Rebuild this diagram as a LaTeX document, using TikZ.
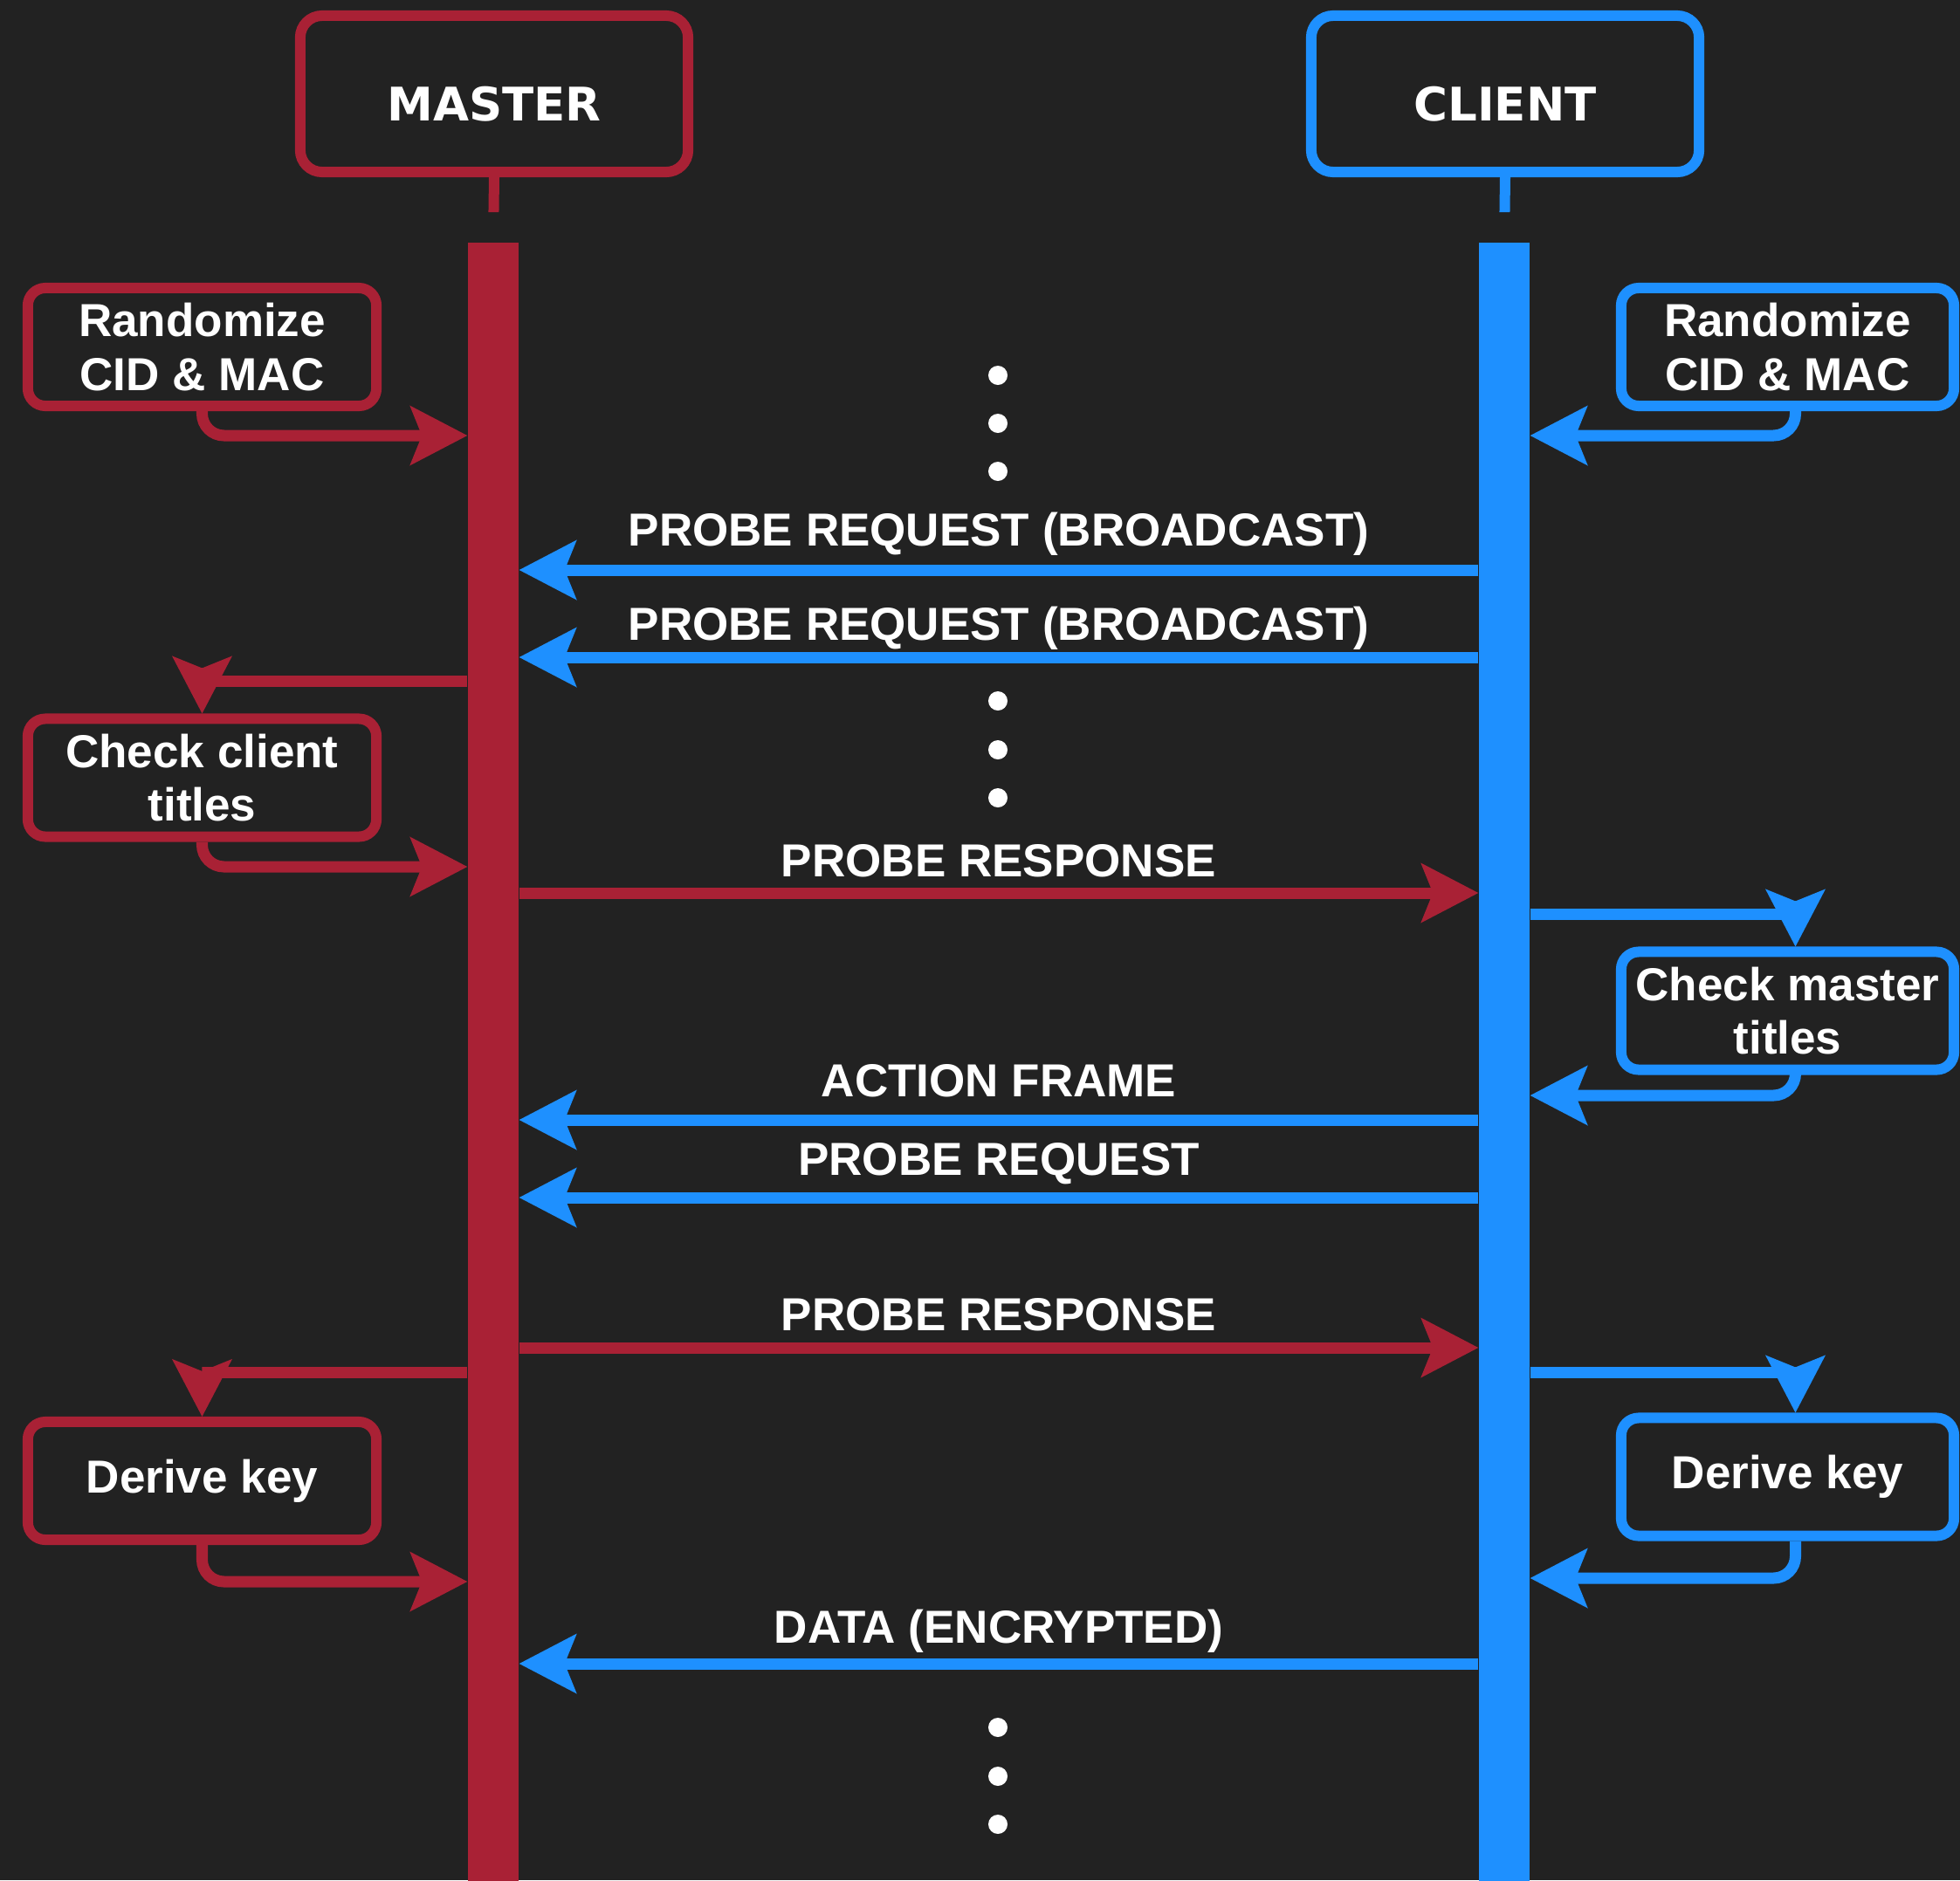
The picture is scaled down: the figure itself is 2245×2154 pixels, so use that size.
\documentclass[tikz,border=0pt]{standalone}
\usepackage{fontspec}
\setmainfont{Liberation Sans}
\newfontfamily\hdrfont{DejaVu Sans}
\usetikzlibrary{arrows.meta,calc}
\definecolor{bgc}{RGB}{34,34,34}
\definecolor{mred}{RGB}{169,33,53}
\definecolor{mblue}{RGB}{30,144,255}
\begin{document}
\begin{tikzpicture}[x=0.01cm, y=-0.01cm,
  >={Stealth[length=0.66cm,width=0.69cm,inset=0.14cm,line width=0pt]},
  conn/.style={line width=0.13cm},
  rd/.style={conn, draw=mred},
  bl/.style={conn, draw=mblue},
  lbl/.style={midway, anchor=base, text=white, inner sep=0,
    font=\bfseries\fontsize{15.08pt}{17.6pt}\selectfont},
  hdr/.style={draw=#1, line width=0.12cm, rounded corners=0.25cm, fill=bgc,
    minimum width=4.44cm, minimum height=1.79cm, inner sep=0, text=white,
    font=\hdrfont\bfseries\fontsize{15.08pt}{18pt}\selectfont,
    text height=0.61cm, text depth=0pt},
  actbox/.style={draw=#1, line width=0.12cm, rounded corners=0.2cm, fill=bgc,
    minimum width=3.99cm, minimum height=1.35cm, inner sep=0, text=white,
    align=center, font=\bfseries\fontsize{15.08pt}{17.6pt}\selectfont},
  ractbox/.style={actbox=mblue, minimum width=3.81cm},
  lifeln/.style={fill=#1, draw=none, minimum width=0.58cm, minimum height=18.75cm, inner sep=0},
  stub/.style={draw=#1, line width=0.12cm, dash pattern=on 0.40cm off 0.40cm},
  dotn/.style={circle, fill=white, minimum size=0.22cm, inner sep=0},
]
\useasboundingbox (0,0) rectangle (2245,2154);
\fill[bgc] (0,0) rectangle (2245,2154);

% headers and lifelines
\node[hdr=mred] (mhdr) at (566,107.5) {MASTER};
\node[hdr=mblue] (chdr) at (1724,107.5) {CLIENT};
\node[lifeln=mred] (mll) at (565,1216.5) {};
\node[lifeln=mblue] (cll) at (1723,1216.5) {};
\draw[stub=mred] (mhdr.south) -- (mll.north);
\draw[stub=mblue] (chdr.south) -- (cll.north);

% activity boxes
\node[actbox=mred] (lrand) at (231.5,397.5) {Randomize\\CID \& MAC};
\node[ractbox] (rrand) at (2047.5,397.5) {Randomize\\CID \& MAC};
\node[actbox=mred] (lcheck) at (231.5,891) {Check client\\titles};
\node[ractbox] (rcheck) at (2047.5,1158) {Check master\\titles};
\node[actbox=mred] (lkey) at (231.5,1696.5) {Derive key};
\node[ractbox] (rkey) at (2047.5,1692) {Derive key};

% dots
\node[dotn] (d1) at (1143,430) {};
\node[dotn] (d2) at (1143,485) {};
\node[dotn] (d3) at (1143,540) {};
\node[dotn] (d4) at (1143,803) {};
\node[dotn] (d5) at (1143,859) {};
\node[dotn] (d6) at (1143,914) {};
\node[dotn] (d7) at (1143,1979) {};
\node[dotn] (d8) at (1143,2035) {};
\node[dotn] (d9) at (1143,2090) {};

% self arrows
\draw[rd, rounded corners=0.25cm, ->] (lrand.south) |- (mll.west |- 0,499);
\draw[bl, rounded corners=0.25cm, ->] ($(rrand.south)+(9,0)$) |- (cll.east |- 0,499);
\draw[rd, ->] (mll.west |- 0,780) -| (lcheck.north);
\draw[rd, rounded corners=0.25cm, ->] (lcheck.south) |- (mll.west |- 0,993);
\draw[bl, ->] (cll.east |- 0,1047) -| ($(rcheck.north)+(9,0)$);
\draw[bl, rounded corners=0.25cm, ->] ($(rcheck.south)+(9,0)$) |- (cll.east |- 0,1255);
\draw[rd, ->] (mll.west |- 0,1572) -| (lkey.north);
\draw[rd, rounded corners=0.25cm, ->] (lkey.south) |- (mll.west |- 0,1812);
\draw[bl, ->] (cll.east |- 0,1572) -| ($(rkey.north)+(9,0)$);
\draw[bl, rounded corners=0.25cm, ->] ($(rkey.south)+(9,0)$) |- (cll.east |- 0,1808);

% messages
\draw[bl, ->] (cll.west |- 0,653) -- node[lbl, yshift=0.27cm] {PROBE REQUEST (BROADCAST)} (mll.east |- 0,653);
\draw[bl, ->] (cll.west |- 0,753) -- node[lbl, yshift=0.20cm] {PROBE REQUEST (BROADCAST)} (mll.east |- 0,753);
\draw[rd, ->] (mll.east |- 0,1023) -- node[lbl, yshift=0.19cm] {PROBE RESPONSE} (cll.west |- 0,1023);
\draw[bl, ->] (cll.west |- 0,1283) -- node[lbl, yshift=0.27cm] {ACTION FRAME} (mll.east |- 0,1283);
\draw[bl, ->] (cll.west |- 0,1372) -- node[lbl, yshift=0.26cm] {PROBE REQUEST} (mll.east |- 0,1372);
\draw[rd, ->] (mll.east |- 0,1544) -- node[lbl, yshift=0.20cm] {PROBE RESPONSE} (cll.west |- 0,1544);
\draw[bl, ->] (cll.west |- 0,1906) -- node[lbl, yshift=0.24cm] {DATA (ENCRYPTED)} (mll.east |- 0,1906);
\end{tikzpicture}
\end{document}
